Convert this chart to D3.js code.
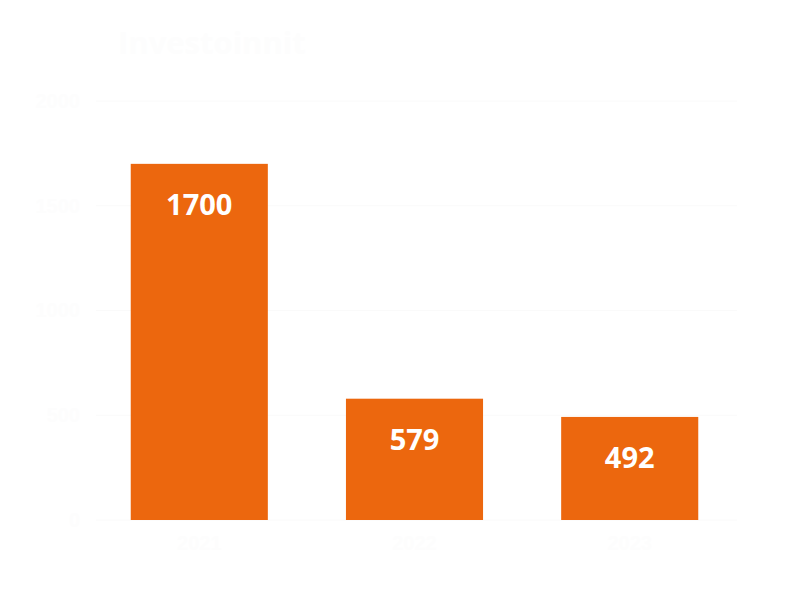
<!DOCTYPE html>
<html>
<head>
<meta charset="utf-8">
<script src="https://cdn.jsdelivr.net/npm/d3@7/dist/d3.min.js"></script>
<style>
  body { margin: 0; background: #ffffff; }
  svg { font-family: "Open Sans", sans-serif; }
</style>
</head>
<body>
<svg id="chart"></svg>
<script>
    var categories = ["2021", "2022", "2023"];
    var values = [1700, 579, 492];
    var yTicks = [0, 500, 1000, 1500, 2000];
    var title = "Investoinnit";

    var width = 800, height = 592;
    var margin = { top: 101, right: 63, bottom: 72, left: 92 };

    var svg = d3.select("#chart")
        .attr("width", width)
        .attr("height", height);

    var x = d3.scaleBand()
        .domain(categories)
        .range([margin.left, width - margin.right])
        .paddingInner(0.363)
        .paddingOuter(0.18);

    var y = d3.scaleLinear()
        .domain([0, 2000])
        .range([height - margin.bottom, margin.top]);

    // faint grid lines
    svg.append("g")
        .selectAll("line")
        .data(yTicks)
        .enter().append("line")
        .attr("x1", margin.left + 4)
        .attr("x2", width - margin.right)
        .attr("y1", function(d) { return y(d); })
        .attr("y2", function(d) { return y(d); })
        .attr("stroke", "#fafafa")
        .attr("stroke-width", 1);

    // y axis labels
    var yAxis = d3.axisLeft(y).tickValues(yTicks).tickFormat(d3.format("d"))
        .tickSize(0).tickPadding(12);
    var gy = svg.append("g")
        .attr("transform", "translate(" + margin.left + ",0)")
        .call(yAxis);
    gy.select(".domain").remove();
    gy.selectAll("text")
        .attr("fill", "#fdfdfd")
        .style("font-size", "20px")
        .style("font-weight", "bold");

    // bars
    svg.append("g")
        .selectAll("rect")
        .data(values)
        .enter().append("rect")
        .attr("x", function(d, i) { return x(categories[i]); })
        .attr("y", function(d) { return y(d); })
        .attr("width", x.bandwidth())
        .attr("height", function(d) { return y(0) - y(d); })
        .attr("fill", "#ec670e");

    // value labels
    svg.append("g")
        .selectAll("text")
        .data(values)
        .enter().append("text")
        .attr("x", function(d, i) { return x(categories[i]) + x.bandwidth() / 2; })
        .attr("y", function(d) { return y(d) + 51; })
        .attr("text-anchor", "middle")
        .attr("fill", "#ffffff")
        .style("font-size", "29px")
        .style("font-weight", "bold")
        .text(function(d) { return d; });

    // x axis labels
    var xAxis = d3.axisBottom(x).tickSize(0).tickPadding(16);
    var gx = svg.append("g")
        .attr("transform", "translate(0," + y(0) + ")")
        .call(xAxis);
    gx.select(".domain").remove();
    gx.selectAll("text")
        .attr("fill", "#fdfdfd")
        .style("font-size", "20px")
        .style("font-weight", "bold");

    // title
    svg.append("text")
        .attr("x", 118)
        .attr("y", 54)
        .attr("fill", "#fdfdfd")
        .style("font-size", "31px")
        .style("font-weight", "bold")
        .text(title);
</script>
</body>
</html>
